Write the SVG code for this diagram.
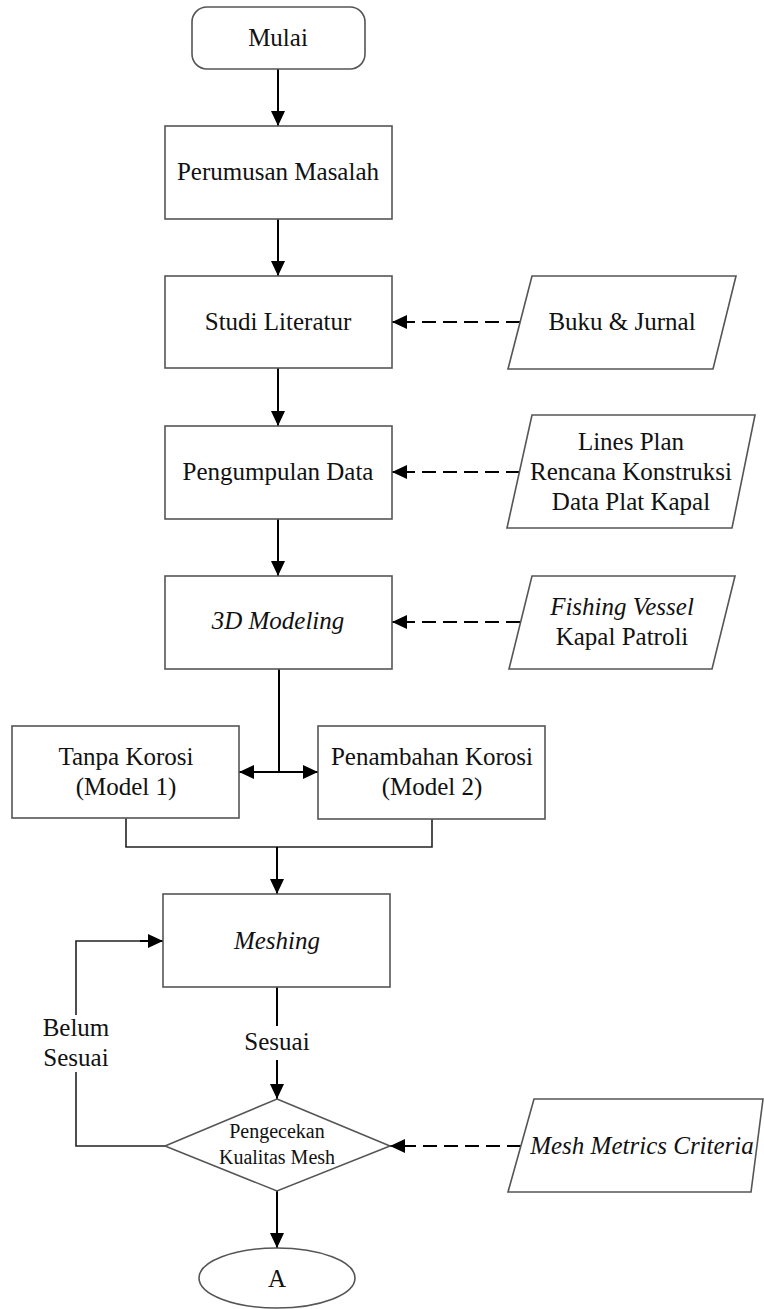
<svg xmlns="http://www.w3.org/2000/svg" width="764" height="1309" viewBox="0 0 764 1309" font-family="'Liberation Serif', 'Times New Roman', 'DejaVu Serif', serif">
<defs>
<marker id="ah" markerUnits="userSpaceOnUse" markerWidth="15" markerHeight="14" refX="15" refY="7" orient="auto">
<path d="M0,0 L15,7 L0,14 z" fill="#000"/>
</marker>
<style>
.box{fill:#fff;stroke:#555;stroke-width:1.6}
text{font-family:'Liberation Serif','Times New Roman','DejaVu Serif',serif}
.t{font-size:25px;fill:#111;text-anchor:middle}
.it{font-style:italic}
.sm{font-size:20px}
.ln{fill:none;stroke:#000;stroke-width:2}
.ln2{fill:none;stroke:#222;stroke-width:1.6}
.dash{fill:none;stroke:#000;stroke-width:2;stroke-dasharray:14 7}
</style>
</defs>
<rect width="764" height="1309" fill="#fff"/>

<g id="connectors">
<line class="ln" x1="278" y1="69" x2="278" y2="126" marker-end="url(#ah)"/>
<line class="ln" x1="278" y1="219" x2="278" y2="276" marker-end="url(#ah)"/>
<line class="ln" x1="278" y1="368" x2="278" y2="426" marker-end="url(#ah)"/>
<line class="ln" x1="278" y1="519" x2="278" y2="576" marker-end="url(#ah)"/>
<line class="ln" x1="279" y1="669" x2="279" y2="772"/>
<line class="ln" x1="279" y1="772" x2="239" y2="772" marker-end="url(#ah)"/>
<line class="ln" x1="279" y1="772" x2="318" y2="772" marker-end="url(#ah)"/>
<polyline class="ln2" points="126,818 126,847 432,847 432,819"/>
<line class="ln" x1="277" y1="847" x2="277" y2="894" marker-end="url(#ah)"/>
<line class="ln" x1="277" y1="987" x2="277" y2="1026"/>
<line class="ln" x1="277" y1="1060" x2="277" y2="1099" marker-end="url(#ah)"/>
<line class="ln" x1="277" y1="1191" x2="277" y2="1248" marker-end="url(#ah)"/>
<polyline class="ln2" points="165,1146 76,1146 76,1072"/>
<polyline class="ln2" points="76,1015 76,941 150,941"/>
<line class="ln" x1="140" y1="941" x2="163" y2="941" marker-end="url(#ah)"/>
<line class="dash" x1="520" y1="322" x2="392" y2="322" marker-end="url(#ah)"/>
<line class="dash" x1="520" y1="472" x2="392" y2="472" marker-end="url(#ah)"/>
<line class="dash" x1="520" y1="622" x2="392" y2="622" marker-end="url(#ah)"/>
<line class="dash" x1="521" y1="1146" x2="390" y2="1146" marker-end="url(#ah)"/>
<text class="t" x="277" y="1050">Sesuai</text>
<text class="t" x="76" y="1036">Belum</text>
<text class="t" x="76" y="1066">Sesuai</text>
</g>

<g id="mulai">
<rect class="box" x="192" y="7" width="173" height="62" rx="15"/>
<text class="t" x="278" y="46">Mulai</text>
</g>
<g id="perumusan">
<rect class="box" x="165" y="126" width="227" height="93"/>
<text class="t" x="278" y="180">Perumusan Masalah</text>
</g>
<g id="studi">
<rect class="box" x="165" y="276" width="227" height="92"/>
<text class="t" x="278" y="330">Studi Literatur</text>
</g>
<g id="pengumpulan">
<rect class="box" x="165" y="426" width="227" height="93"/>
<text class="t" x="278" y="480">Pengumpulan Data</text>
</g>
<g id="modeling">
<rect class="box" x="165" y="576" width="227" height="93"/>
<text class="t it" x="278" y="629">3D Modeling</text>
</g>
<g id="tanpa">
<rect class="box" x="12" y="726" width="227" height="92"/>
<text class="t" x="126" y="765">Tanpa Korosi</text>
<text class="t" x="126" y="795">(Model 1)</text>
</g>
<g id="penambahan">
<rect class="box" x="318" y="726" width="227" height="93"/>
<text class="t" x="432" y="765">Penambahan Korosi</text>
<text class="t" x="432" y="795">(Model 2)</text>
</g>
<g id="meshing">
<rect class="box" x="163" y="894" width="227" height="93"/>
<text class="t it" x="277" y="949">Meshing</text>
</g>
<g id="pengecekan">
<polygon class="box" points="277,1099 390,1146 277,1191 165,1146"/>
<text class="t sm" x="277" y="1138">Pengecekan</text>
<text class="t sm" x="277" y="1164">Kualitas Mesh</text>
</g>
<g id="a">
<ellipse class="box" cx="277" cy="1278" rx="78" ry="30"/>
<text class="t" x="277" y="1287">A</text>
</g>
<g id="buku">
<polygon class="box" points="532,276 736,276 713,369 508,369"/>
<text class="t" x="622" y="330">Buku &amp; Jurnal</text>
</g>
<g id="data">
<polygon class="box" points="532,415 755,415 732,528 507,528"/>
<text class="t" x="631" y="450">Lines Plan</text>
<text class="t" x="631" y="480">Rencana Konstruksi</text>
<text class="t" x="631" y="510">Data Plat Kapal</text>
</g>
<g id="kapal">
<polygon class="box" points="532,576 735,576 712,669 509,669"/>
<text class="t it" x="622" y="615">Fishing Vessel</text>
<text class="t" x="622" y="645">Kapal Patroli</text>
</g>
<g id="mesh-metrics">
<polygon class="box" points="534,1099 763,1099 751,1192 508,1192"/>
<text class="t it" x="642" y="1154">Mesh Metrics Criteria</text>
</g>
</svg>
